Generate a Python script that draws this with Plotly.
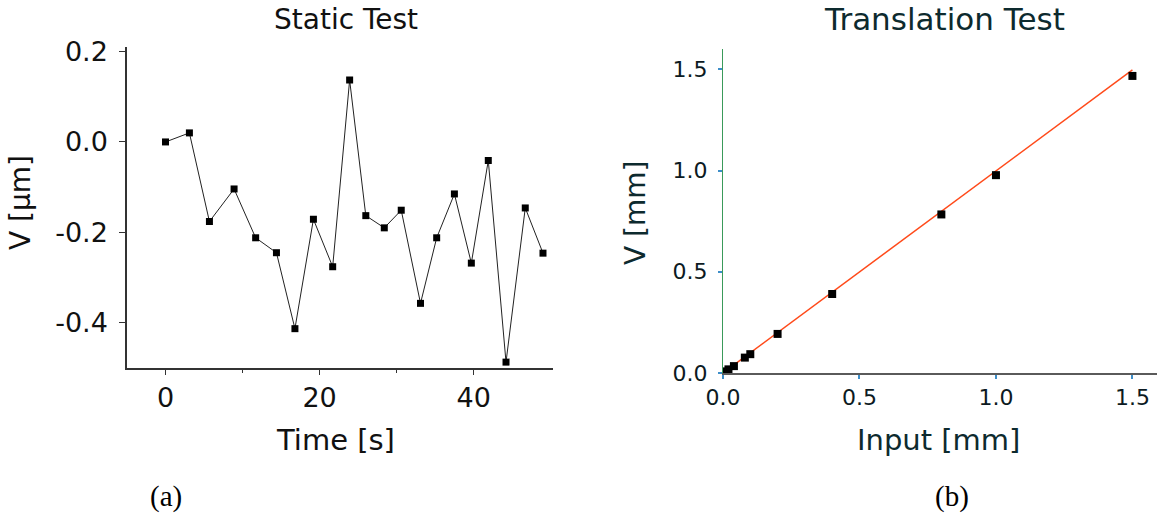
import plotly.graph_objects as go

W, H = 1159, 515

# ---- data: (a) Static Test ----
time_s = [0, 3.1, 5.7, 8.9, 11.7, 14.4, 16.8, 19.2, 21.7, 23.9, 26.0, 28.4, 30.6,
          33.1, 35.2, 37.5, 39.7, 41.9, 44.2, 46.7, 49.0]
v_um = [0.0, 0.020, -0.176, -0.104, -0.212, -0.245, -0.413, -0.171, -0.276, 0.137,
        -0.163, -0.190, -0.151, -0.357, -0.212, -0.115, -0.268, -0.041, -0.487,
        -0.146, -0.246]

# ---- data: (b) Translation Test ----
input_mm = [0.01, 0.02, 0.04, 0.08, 0.1, 0.2, 0.4, 0.8, 1.0, 1.5]
v_mm = [0.008, 0.018, 0.034, 0.076, 0.093, 0.193, 0.390, 0.783, 0.977, 1.467]
fit_x = [0.0, 1.5]
fit_y = [0.0, 1.497]

left_yticks = [0.2, 0.0, -0.2, -0.4]
left_yticktext = ["0.2", "0.0", "-0.2", "-0.4"]
left_xticks = [0, 20, 40]
right_ticks = [0.0, 0.5, 1.0, 1.5]
right_ticktext = ["0.0", "0.5", "1.0", "1.5"]

FONT = "DejaVu Sans"

def px(x):
    return x / W

def py(y):
    return 1 - y / H

fig = go.Figure()
fig.add_trace(go.Scatter(
    x=time_s, y=v_um, mode="lines+markers",
    line=dict(color="#222222", width=1),
    marker=dict(symbol="square", size=7, color="black"),
    xaxis="x", yaxis="y", showlegend=False))
fig.add_trace(go.Scatter(
    x=fit_x, y=fit_y, mode="lines",
    line=dict(color="#ff4a1a", width=1.5),
    xaxis="x2", yaxis="y2", showlegend=False))
fig.add_trace(go.Scatter(
    x=input_mm, y=v_mm, mode="markers",
    marker=dict(symbol="square", size=8, color="black"),
    xaxis="x2", yaxis="y2", showlegend=False))

fig.update_layout(
    width=W, height=H,
    margin=dict(l=0, r=0, t=0, b=0, autoexpand=False),
    paper_bgcolor="white", plot_bgcolor="white",
    font=dict(family=FONT, color="#111111"),
    xaxis=dict(domain=[px(127), px(553)], range=[-5, 50.3], anchor="y", automargin=False,
               showline=True, linecolor="#333333", linewidth=1.5, showgrid=False, zeroline=False,
               tickmode="array", tickvals=left_xticks, ticks="outside", ticklen=5,
               tickcolor="#333333", tickfont=dict(size=27, family=FONT, color="#111"),
               ticklabelstandoff=0,
               minor=dict(tickmode="array", tickvals=[10, 30], ticks="outside", ticklen=3,
                          tickcolor="#333333")),
    yaxis=dict(domain=[py(368), py(47)], range=[-0.5, 0.21], anchor="x", automargin=False,
               showline=True, linecolor="#333333", linewidth=1.5, showgrid=False, zeroline=False,
               tickmode="array", tickvals=left_yticks, ticktext=left_yticktext,
               ticks="outside", ticklen=6, tickcolor="#333333",
               tickfont=dict(size=27, family=FONT, color="#111"), ticklabelstandoff=6),
    xaxis2=dict(domain=[px(723), px(1157)], range=[0, 1.59], anchor="y2", automargin=False,
                showline=True, linecolor="#5a5a5a", linewidth=1.5, showgrid=False, zeroline=False,
                tickmode="array", tickvals=right_ticks, ticktext=right_ticktext,
                ticks="outside", ticklen=4, tickcolor="#3d8ec9", tickwidth=1.5,
                tickfont=dict(size=22, family=FONT, color="#0c1a22"), ticklabelstandoff=0),
    yaxis2=dict(domain=[py(373), py(49)], range=[0, 1.6], anchor="x2", automargin=False,
                showline=True, linecolor="#3a9a5a", linewidth=1.2, showgrid=False, zeroline=False,
                tickmode="array", tickvals=right_ticks, ticktext=right_ticktext,
                ticks="outside", ticklen=4, tickcolor="#3d8ec9", tickwidth=1.5,
                tickfont=dict(size=22, family=FONT, color="#0c1a22"), ticklabelstandoff=6),
)

ann = [
    dict(text="Static Test", x=px(346), y=py(19), size=28, color="#111111", fam=FONT, angle=0),
    dict(text="Translation Test", x=px(944), y=py(19), size=31, color="#0d2a2e", fam=FONT, angle=0),
    dict(text="Time [s]", x=px(335), y=py(440), size=29, color="#111111", fam=FONT, angle=0),
    dict(text="Input [mm]", x=px(938), y=py(440), size=29, color="#0d2a2e", fam=FONT, angle=0),
    dict(text="V [μm]", x=px(20), y=py(203), size=28, color="#111111", fam=FONT, angle=-90),
    dict(text="V [mm]", x=px(635), y=py(213), size=28, color="#0d2a2e", fam=FONT, angle=-90),
    dict(text="(a)", x=px(166), y=py(496), size=29, color="#000000", fam="Liberation Serif", angle=0),
    dict(text="(b)", x=px(952), y=py(496), size=29, color="#000000", fam="Liberation Serif", angle=0),
]
for a in ann:
    fig.add_annotation(text=a["text"], x=a["x"], y=a["y"], xref="paper", yref="paper",
                       xanchor="center", yanchor="middle", showarrow=False, textangle=a["angle"],
                       font=dict(size=a["size"], color=a["color"], family=a["fam"]))

fig.write_html("out.html")
